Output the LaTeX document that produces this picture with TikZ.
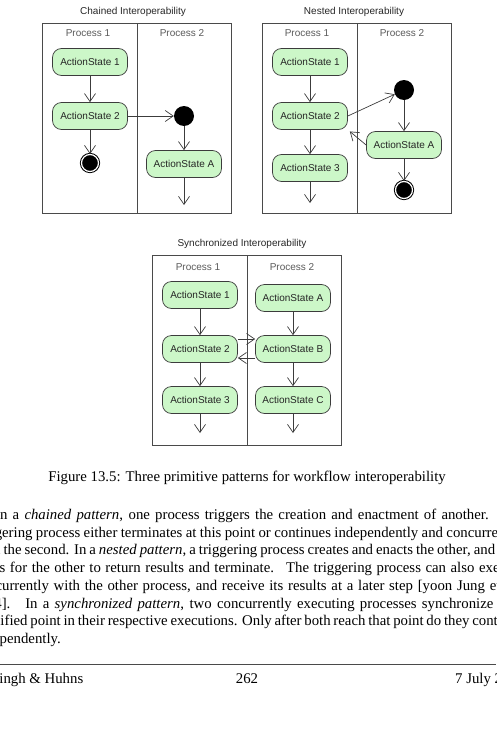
\documentclass[tikz,border=0pt]{standalone}
\usepackage{fontspec}
\setmainfont{Liberation Serif}
\newfontfamily\diagfont{Liberation Sans}
\usetikzlibrary{arrows.meta}
\definecolor{actfill}{HTML}{CCF7C8}
\definecolor{lanegray}{HTML}{4A4A4A}
\definecolor{flowgray}{HTML}{3C3C3C}
\definecolor{procgray}{HTML}{5A5A5A}
\tikzstyle{lane}=[draw=lanegray,line width=0.9pt]
\tikzstyle{action}=[rectangle,rounded corners=9pt,fill=actfill,draw=flowgray,line width=0.7pt,minimum width=75pt,minimum height=27pt,inner sep=2pt,font=\diagfont\fontsize{10}{12}\selectfont,text=black!85]
\tikzstyle{startst}=[circle,fill=black,minimum size=20pt,inner sep=0pt]
\tikzstyle{finalst}=[circle,fill=black,draw=black,double=white,double distance=1.2pt,line width=1pt,minimum size=17pt,inner sep=0pt]
\tikzset{flow/.style={-{Straight Barb[length=8pt,width=11pt]},draw=flowgray,line width=0.7pt},
  ptitle/.style={font=\diagfont\fontsize{10}{12}\selectfont,text=black!85},
  lanelabel/.style={font=\diagfont\fontsize{10}{12}\selectfont,text=procgray},
  bodytext/.style={font=\fontsize{14.8}{17.7}\selectfont,align=left,inner sep=0pt}
}

\begin{document}
\begin{tikzpicture}[x=1pt,y=-1pt]
    \useasboundingbox (0,0) rectangle (496,736);
    \clip (0,0) rectangle (496,736);

    % chained
    \node[ptitle] (chTitle) at (133,12) {Chained Interoperability};
    \draw[lane] (42,23) rectangle (231,213);
    \draw[lane] (137,23) -- (137,213);
    \node[lanelabel] (chP1) at (88,33) {Process 1};
    \node[lanelabel] (chP2) at (182,33) {Process 2};
    \node[action] (ch1) at (90,62) {ActionState 1};
    \node[action] (ch2) at (90,116) {ActionState 2};
    \node[finalst] (chEnd) at (90,163) {};
    \node[startst] (chStart) at (184,116) {};
    \node[action] (chA) at (184,164) {ActionState A};
    \coordinate (chOut) at (184,205);
    \draw[flow] (ch1) -- (ch2);
    \draw[flow] (ch2) -- (chEnd);
    \draw[flow] (ch2) -- (chStart);
    \draw[flow] (chStart) -- (chA);
    \draw[flow] (chA) -- (chOut);

    % nested
    \node[ptitle] (nsTitle) at (354,12) {Nested Interoperability};
    \draw[lane] (262,23) rectangle (451,213);
    \draw[lane] (357,23) -- (357,213);
    \node[lanelabel] (nsP1) at (307,33) {Process 1};
    \node[lanelabel] (nsP2) at (402,33) {Process 2};
    \node[action] (ns1) at (310,62) {ActionState 1};
    \node[action] (ns2) at (310,116) {ActionState 2};
    \node[action] (ns3) at (310,168) {ActionState 3};
    \coordinate (nsOut) at (310,203);
    \node[startst] (nsStart) at (404,90) {};
    \node[action] (nsA) at (404,145) {ActionState A};
    \node[finalst] (nsEnd) at (404,190) {};
    \draw[flow] (ns1) -- (ns2);
    \draw[flow] (ns2) -- (ns3);
    \draw[flow] (ns3) -- (nsOut);
    \draw[flow] (ns2.east) -- (nsStart);
    \draw[flow] (nsStart) -- (nsA);
    \draw[flow] (nsA) -- (nsEnd);
    \draw[flow,shorten >=2.5pt] (nsA.west) -- (ns2.south east);

    % synchronized
    \node[ptitle] (syTitle) at (242,244) {Synchronized Interoperability};
    \draw[lane] (152,255) rectangle (341,445);
    \draw[lane] (247,255) -- (247,445);
    \node[lanelabel] (syP1) at (198,267) {Process 1};
    \node[lanelabel] (syP2) at (292,267) {Process 2};
    \node[action] (sy1) at (200,295) {ActionState 1};
    \node[action] (sy2) at (200,349) {ActionState 2};
    \node[action] (sy3) at (200,400) {ActionState 3};
    \coordinate (syOut1) at (200,433);
    \node[action] (syA) at (293,298) {ActionState A};
    \node[action] (syB) at (293,349) {ActionState B};
    \node[action] (syC) at (293,400) {ActionState C};
    \coordinate (syOut2) at (293,433);
    \draw[flow] (sy1) -- (sy2);
    \draw[flow] (sy2) -- (sy3);
    \draw[flow] (sy3) -- (syOut1);
    \draw[flow] (syA) -- (syB);
    \draw[flow] (syB) -- (syC);
    \draw[flow] (syC) -- (syOut2);
    \draw[flow] ([yshift=10pt]sy2.east) -- ([yshift=10pt]syB.west);
    \draw[flow] ([yshift=-9pt]syB.west) -- ([yshift=-9pt]sy2.east);

    % caption, text and footer
    \node[bodytext,anchor=base] (caption) at (247,481) {Figure 13.5: Three primitive patterns for workflow interoperability};
    \node[bodytext,anchor=base west] (para) at (-26,643.4) {%
      \hspace*{21pt}\makebox[526pt][s]{In a \emph{chained pattern}, one process triggers the creation and enactment of another. The}\\
      \makebox[547pt][s]{triggering process either terminates at this point or continues independently and concurrently}\\
      \makebox[521pt][s]{with the second. In a \emph{nested pattern}, a triggering process creates and enacts the other, and}\\
      \makebox[550pt][s]{waits for the other to return results and terminate. \ The triggering process can also execute}\\
      \makebox[549pt][s]{concurrently with the other process, and receive its results at a later step [yoon Jung et~al.,}\\
      \hspace*{-2pt}\makebox[549pt][s]{2004]. \ In a \emph{synchronized pattern}, two concurrently executing processes synchronize at a}\\
      \makebox[549pt][s]{specified point in their respective executions. Only after both reach that point do they continue}\\
      independently.};
    \draw[lanegray,line width=0.8pt] (0,664) -- (496,664);
    \node[bodytext,anchor=base west] (footL) at (-9,683) {Singh \& Huhns};
    \node[bodytext,anchor=base] (footC) at (247,683) {262};
    \node[bodytext,anchor=base west] (footR) at (455,683) {7 July 2004};
\end{tikzpicture}
\end{document}
